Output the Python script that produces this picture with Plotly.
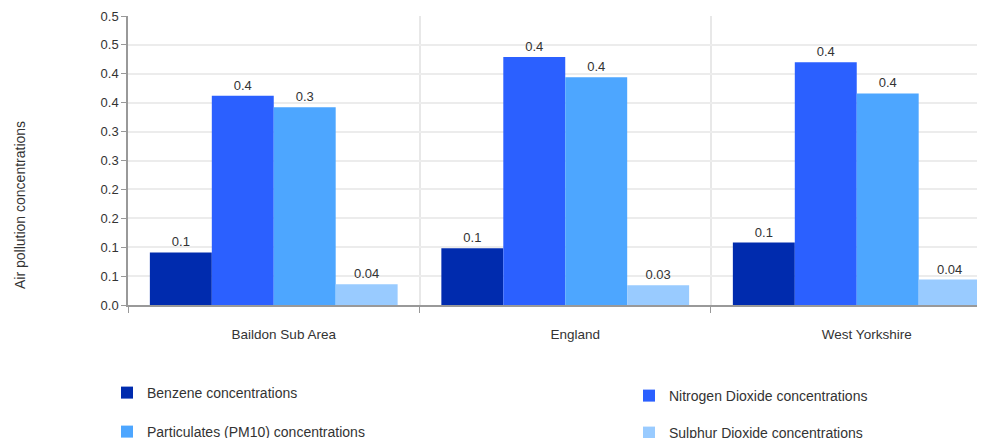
import plotly.graph_objects as go

categories = ["Baildon Sub Area", "England", "West Yorkshire"]
series_names = ["Benzene concentrations", "Nitrogen Dioxide concentrations",
                "Particulates (PM10) concentrations", "Sulphur Dioxide concentrations"]
benzene = [0.091, 0.098, 0.108]
no2 = [0.362, 0.429, 0.420]
pm10 = [0.342, 0.394, 0.366]
so2 = [0.036, 0.034, 0.044]
benzene_labels = ["0.1", "0.1", "0.1"]
no2_labels = ["0.4", "0.4", "0.4"]
pm10_labels = ["0.3", "0.4", "0.4"]
so2_labels = ["0.04", "0.03", "0.04"]
colors = ["#002BAE", "#2B60FF", "#4DA6FF", "#99CBFF"]
ytick_vals = [0.0, 0.05, 0.1, 0.15, 0.2, 0.25, 0.3, 0.35, 0.4, 0.45, 0.5]
ytick_text = ["0.0", "0.1", "0.1", "0.2", "0.2", "0.3", "0.3", "0.4", "0.4", "0.5", "0.5"]

FONT = "Liberation Sans, Arial, sans-serif"
OFF = 8  # page body margin
W, H = 985 - OFF, 438 - OFF
L, T = 128 - OFF, 16 - OFF
B = H - (305 - OFF)
PW = W - L
PH = H - T - B


def px_x(px):
    return ((px - OFF) - L) / PW


def px_y(py):
    return (H - B - (py - OFF)) / PH


legend_names = ["legend", "legend2", "legend3", "legend4"]
legend_pos = [(107, 393), (629, 396), (107, 432), (629, 433)]

fig = go.Figure()
series = [benzene, no2, pm10, so2]
labels = [benzene_labels, no2_labels, pm10_labels, so2_labels]
for name, vals, lab, col, lg in zip(series_names, series, labels, colors, legend_names):
    fig.add_trace(go.Bar(
        x=categories, y=vals, name=name, text=lab, textposition="outside",
        textfont=dict(size=13, color="#333333", family=FONT),
        marker=dict(color=col, line=dict(width=0)),
        cliponaxis=False, legend=lg,
    ))

legend_layout = {}
for lg, (lx, ly) in zip(legend_names, legend_pos):
    legend_layout[lg] = dict(
        orientation="h", xref="paper", yref="paper",
        x=px_x(lx), y=px_y(ly), xanchor="left", yanchor="middle",
        font=dict(size=14, color="#333333", family=FONT),
        bgcolor="rgba(0,0,0,0)", itemwidth=30,
    )

fig.update_layout(
    width=W, height=H,
    margin=dict(l=L, r=0, t=T, b=B, autoexpand=False),
    plot_bgcolor="white", paper_bgcolor="white",
    barmode="group", bargap=0.15, bargroupgap=0,
    font=dict(family=FONT, size=13, color="#333333"),
    showlegend=True,
    xaxis=dict(
        type="category", range=[-0.5, 2.44],
        tickson="boundaries", ticks="outside", ticklen=6, tickcolor="#999999",
        showgrid=True, gridcolor="#e8e8e8", gridwidth=1.5,
        showline=True, linecolor="#999999", linewidth=1.5,
        ticklabelstandoff=16, ticklabelshift=10,
        tickfont=dict(size=13.5, color="#333333", family=FONT),
    ),
    yaxis=dict(
        range=[0, 0.5], tickvals=ytick_vals, ticktext=ytick_text,
        ticks="outside", ticklen=5, tickcolor="#999999",
        showgrid=True, gridcolor="#ececec", gridwidth=1.5,
        showline=True, linecolor="#999999", linewidth=1.5,
        zeroline=False,
        tickfont=dict(size=13, color="#333333", family=FONT),
    ),
    annotations=[dict(
        text="Air pollution concentrations", textangle=-90,
        xref="paper", yref="paper",
        x=px_x(20), y=px_y(205),
        xanchor="center", yanchor="middle", showarrow=False,
        font=dict(size=14, color="#333333", family=FONT),
    )],
    **legend_layout,
)

fig.write_html("out.html")
